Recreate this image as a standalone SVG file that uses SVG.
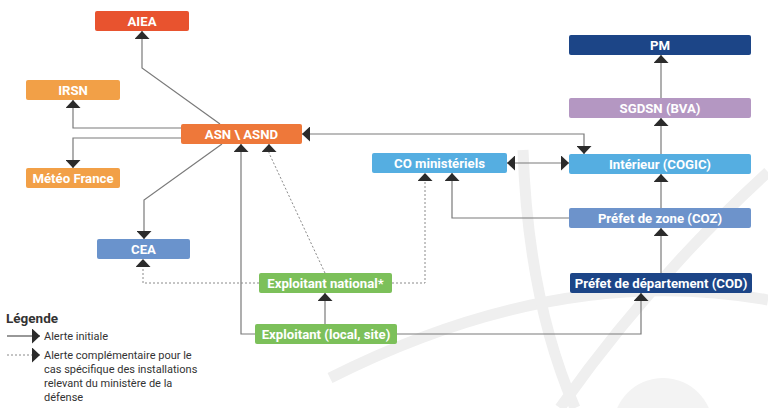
<svg xmlns="http://www.w3.org/2000/svg" width="768" height="408" viewBox="0 0 768 408">
<defs>
<marker id="ah" viewBox="0 0 8 15" refX="8" refY="7.5" markerWidth="8" markerHeight="15" markerUnits="userSpaceOnUse" orient="auto-start-reverse">
<path d="M0,0 L8,7.5 L0,15 z" fill="#2b2b2b" stroke="none"/>
</marker>
</defs>
<style>
.n rect{stroke:none}
.n text{font-family:Roboto,"Noto Sans","DejaVu Sans",sans-serif;font-weight:bold;font-size:13.2px;fill:#ffffff;text-anchor:middle}
.c{fill:none;stroke:#7a7a7a;stroke-width:1.2}
.d{fill:none;stroke:#8a8a8a;stroke-width:1;stroke-dasharray:2 2}
.lg{font-family:Roboto,"Noto Sans","DejaVu Sans",sans-serif;font-size:11px;fill:#333333}
.wm{fill:none;stroke:#efefef;stroke-width:11}
</style>
<rect width="768" height="408" fill="#ffffff"/>
<g id="watermark">
<path class="wm" d="M330,378 Q560,262 768,300"/>
<path class="wm" d="M523,150 Q528,300 575,408"/>
<path class="wm" d="M768,172 Q650,280 560,408"/>
<circle cx="663" cy="428" r="50" fill="#f3f3f3"/>
</g>
<g id="connectors">
<path class="c" d="M220,124 L142,68 L142,31" marker-end="url(#ah)"/>
<path class="c" d="M181,128 L73,128 L73,100" marker-end="url(#ah)"/>
<path class="c" d="M181,138 L73,138 L73,168" marker-end="url(#ah)"/>
<path class="c" d="M222,144 L144,200 L144,239" marker-end="url(#ah)"/>
<path class="c" d="M255,334 L241,334 L241,144" marker-end="url(#ah)"/>
<path class="d" d="M325,273 L269,153 L269,144" marker-end="url(#ah)"/>
<path class="d" d="M259,283 L143,283 L143,259" marker-end="url(#ah)"/>
<path class="d" d="M392,283 L425,283 L425,173" marker-end="url(#ah)"/>
<path class="c" d="M325,324 L325,293" marker-end="url(#ah)"/>
<path class="c" d="M397,334 L641,334 L641,293" marker-end="url(#ah)"/>
<path class="c" d="M661,273 L661,228" marker-end="url(#ah)"/>
<path class="c" d="M661,208 L661,174" marker-end="url(#ah)"/>
<path class="c" d="M569,218 L452,218 L452,173" marker-end="url(#ah)"/>
<path class="c" d="M661,154 L661,118" marker-end="url(#ah)"/>
<path class="c" d="M661,98 L661,55" marker-end="url(#ah)"/>
<path class="c" d="M507,163 L569,163" marker-start="url(#ah)" marker-end="url(#ah)"/>
<path class="c" d="M302,134 L584,134 L584,154" marker-start="url(#ah)" marker-end="url(#ah)"/>
</g>
<g id="n-aiea" class="n"><rect x="95" y="11" width="94" height="20" rx="2" fill="#e8532f"/><text x="142" y="25.6">AIEA</text></g>
<g id="n-irsn" class="n"><rect x="26" y="80" width="94" height="20" rx="2" fill="#f2a047"/><text x="73" y="94.6">IRSN</text></g>
<g id="n-meteo" class="n"><rect x="26" y="168" width="94" height="20" rx="2" fill="#f2a047"/><text x="73" y="182.6">Météo France</text></g>
<g id="n-asn" class="n"><rect x="181" y="124" width="121" height="20" rx="2" fill="#ee783a"/><text x="241.5" y="138.6">ASN \ ASND</text></g>
<g id="n-cea" class="n"><rect x="97" y="239" width="93" height="20" rx="2" fill="#6a93cc"/><text x="143.5" y="253.6">CEA</text></g>
<g id="n-expnat" class="n"><rect x="259" y="273" width="133" height="20" rx="2" fill="#7cc05a"/><text x="325.5" y="287.6">Exploitant national*</text></g>
<g id="n-exploc" class="n"><rect x="255" y="324" width="142" height="20" rx="2" fill="#7cc05a"/><text x="326" y="338.6">Exploitant (local, site)</text></g>
<g id="n-comin" class="n"><rect x="372" y="153" width="135" height="20" rx="2" fill="#55aee1"/><text x="439.5" y="167.6">CO ministériels</text></g>
<g id="n-interieur" class="n"><rect x="569" y="154" width="182" height="20" rx="2" fill="#55aee1"/><text x="660" y="168.6">Intérieur (COGIC)</text></g>
<g id="n-zone" class="n"><rect x="569" y="208" width="182" height="20" rx="2" fill="#6d93cb"/><text x="660" y="222.6">Préfet de zone (COZ)</text></g>
<g id="n-dep" class="n"><rect x="570" y="273" width="182" height="20" rx="2" fill="#1c4587"/><text x="661" y="287.6">Préfet de département (COD)</text></g>
<g id="n-sgdsn" class="n"><rect x="569" y="98" width="182" height="20" rx="2" fill="#b497c2"/><text x="660" y="112.6">SGDSN (BVA)</text></g>
<g id="n-pm" class="n"><rect x="569" y="35" width="182" height="20" rx="2" fill="#1c4587"/><text x="660" y="49.6">PM</text></g>
<g id="legend">
<text x="6" y="323" style="font-family:Roboto,'Noto Sans','DejaVu Sans',sans-serif;font-weight:bold;font-size:13.5px;fill:#333333">Légende</text>
<path class="c" d="M7,336 L40,336" style="stroke:#333333" marker-end="url(#ah)"/>
<text class="lg" x="44" y="340">Alerte initiale</text>
<path class="d" d="M7,355 L40,355" marker-end="url(#ah)"/>
<text class="lg" x="44" y="359">Alerte complémentaire pour le</text>
<text class="lg" x="44" y="373">cas spécifique des installations</text>
<text class="lg" x="44" y="387">relevant du ministère de la</text>
<text class="lg" x="44" y="401">défense</text>
</g>
</svg>
